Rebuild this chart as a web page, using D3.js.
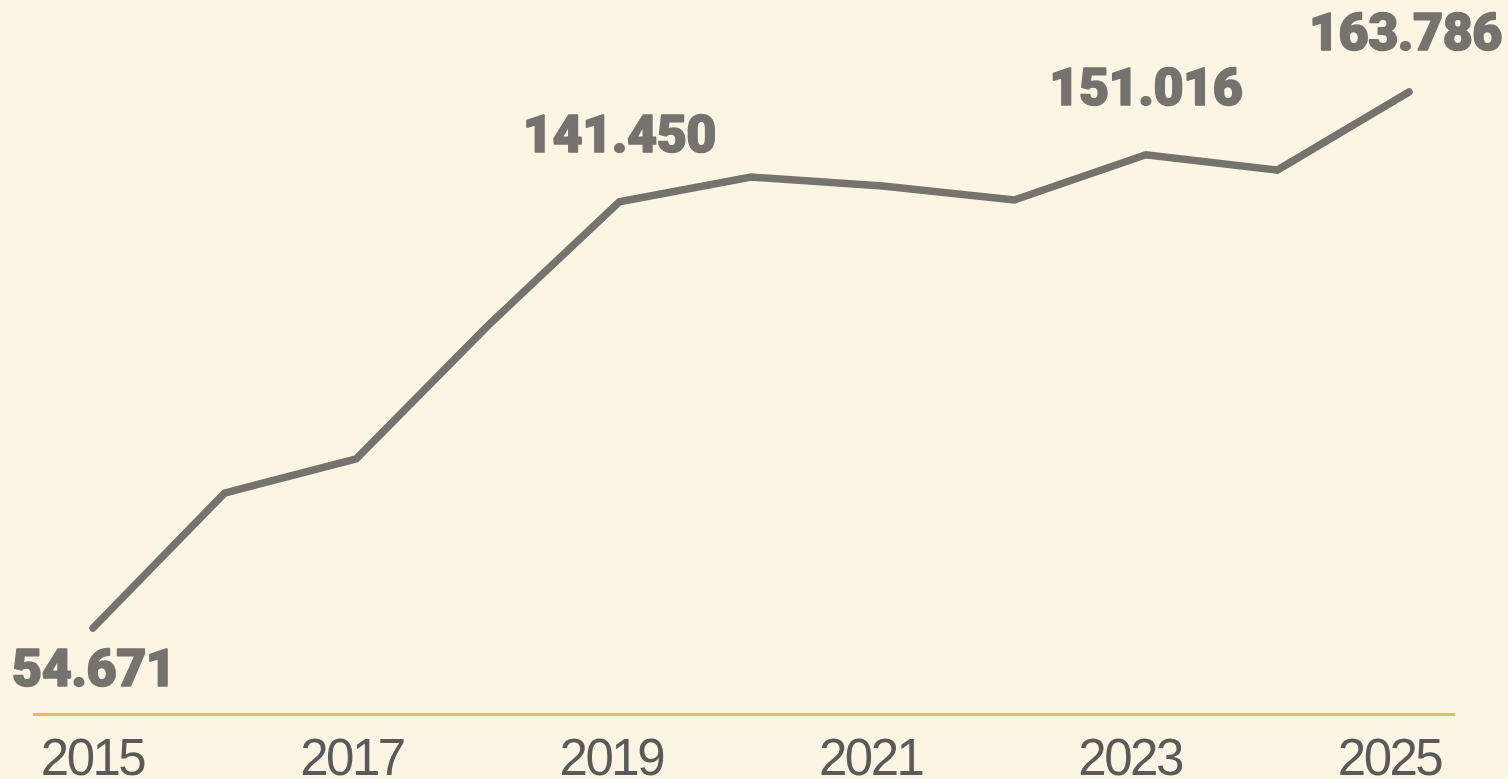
<!DOCTYPE html>
<html>
<head>
<meta charset="utf-8">
<script src="https://cdn.jsdelivr.net/npm/d3@7"></script>
<style>
  html, body { margin: 0; padding: 0; background: #fdf5e3; }
  svg { display: block; }
</style>
</head>
<body>
<div id="chart"></div>
<script>
// ---- data ----
var years = [2015, 2016, 2017, 2018, 2019, 2020, 2021, 2022, 2023, 2024, 2025];
var values = [54671, 82150, 89080, 116200, 141450, 146480, 144650, 141800, 151016, 147900, 163786];
var labelYears = [2015, 2019, 2023, 2025];   // years with a value label
var tickYears = [2015, 2017, 2019, 2021, 2023, 2025];

var W = 1508, H = 779;
var fmt = d3.format(",d");
function labelText(v) { return fmt(v).replace(/,/g, "."); }

var svg = d3.select("#chart").append("svg")
  .attr("width", W)
  .attr("height", H);

svg.append("rect")
  .attr("width", W).attr("height", H)
  .attr("fill", "#fdf5e3");

// scales
var x = d3.scaleLinear()
  .domain(d3.extent(years))
  .range([93, 1409]);

var y = d3.scaleLinear()
  .domain(d3.extent(values))
  .range([628, 92]);

// axis labels sit on their own slightly narrower scale
var xTicks = d3.scaleLinear()
  .domain(d3.extent(years))
  .range([92, 1389]);

// baseline
svg.append("line")
  .attr("x1", 33).attr("x2", 1455)
  .attr("y1", 714.5).attr("y2", 714.5)
  .attr("stroke", "#ebc03f")
  .attr("stroke-width", 3);

// x axis (labels only)
var xAxis = svg.append("g")
  .attr("transform", "translate(0,714)")
  .call(d3.axisBottom(xTicks)
    .tickValues(tickYears)
    .tickSize(0)
    .tickPadding(0)
    .tickFormat(d3.format("d")));
xAxis.select(".domain").remove();
xAxis.selectAll("text")
  .attr("y", 61)
  .attr("dy", null)
  .attr("fill", "#5a5a5a")
  .style("font-family", "'Liberation Sans', Arial, sans-serif")
  .style("font-size", "51px")
  .style("letter-spacing", "-2.5px");

// line
var data = years.map(function(d, i) { return {year: d, value: values[i]}; });

var line = d3.line()
  .x(function(d) { return x(d.year); })
  .y(function(d) { return y(d.value); });

svg.append("path")
  .datum(data)
  .attr("d", line)
  .attr("fill", "none")
  .attr("stroke", "#75736e")
  .attr("stroke-width", 7.5)
  .attr("stroke-linecap", "round")
  .attr("stroke-linejoin", "miter");

// value labels: first one below the point, the rest above
var labels = svg.selectAll(".val")
  .data(data.filter(function(d) { return labelYears.indexOf(d.year) >= 0; }))
  .enter()
  .append("text")
    .attr("class", "val")
    .attr("x", function(d) { return x(d.year); })
    .attr("y", function(d, i) {
      if (i === 0) return y(d.value) + 58;
      return Math.max(y(d.value) - 50, 50);
    })
    .attr("text-anchor", "middle")
    .attr("fill", "#75736e")
    .attr("stroke", "#75736e")
    .attr("stroke-width", 1.6)
    .attr("stroke-linejoin", "round")
    .style("font-family", "Roboto, 'Liberation Sans', sans-serif")
    .style("font-weight", 900)
    .style("font-size", "52px")
    .style("letter-spacing", "-0.5px")
    .text(function(d) { return labelText(d.value); });

// keep labels inside the canvas
labels.each(function() {
  var b = this.getBBox();
  var shift = 0;
  if (b.x + b.width > W - 6) shift = (W - 6) - (b.x + b.width);
  if (b.x < 12) shift = 12 - b.x;
  if (shift) d3.select(this).attr("x", +d3.select(this).attr("x") + shift);
});
</script>
</body>
</html>
